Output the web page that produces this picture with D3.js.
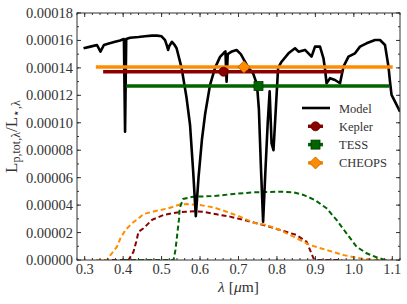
<!DOCTYPE html>
<html>
<head>
<script src="https://cdnjs.cloudflare.com/ajax/libs/d3/7.8.5/d3.min.js"></script>
<style>
  body { margin: 0; background: #fff; }
  svg, svg text, svg tspan { font-family: "Liberation Serif", "Times New Roman", serif; }
</style>
</head>
<body>
<div id="graph"></div>
<script>
// values in units of 1e-5 (L_p / L_star)
var unit = 1e-5;

var modelWl = [0.297,0.315,0.332,0.341,0.350,0.365,0.379,0.392,0.402,0.405,0.408,0.418,0.440,0.457,0.475,0.488,0.500,0.509,0.514,0.517,0.520,0.527,0.533,0.539,0.552,0.565,0.574,0.582,0.589,0.596,0.605,0.613,0.626,0.639,0.652,0.662,0.666,0.669,0.672,0.683,0.695,0.706,0.716,0.726,0.738,0.748,0.753,0.758,0.764,0.770,0.776,0.781,0.786,0.791,0.797,0.803,0.812,0.830,0.847,0.856,0.873,0.890,0.899,0.912,0.921,0.925,0.929,0.938,0.951,0.964,0.973,0.986,1.003,1.016,1.033,1.055,1.068,1.081,1.090,1.094,1.098,1.107,1.120];
var modelFlux = [15.43,15.55,15.67,15.18,15.67,15.8,15.9,16.0,16.1,9.35,16.1,16.2,16.25,16.3,16.35,16.35,16.3,16.03,15.6,15.31,15.6,15.9,15.7,15.43,14.0,11.8,9.84,6.5,3.2,6.0,8.8,10.6,12.76,14.0,14.8,15.1,15.2,13.0,15.0,15.2,15.3,15.0,14.5,14.0,13.6,12.8,11.0,7.0,2.8,6.5,10.0,12.3,8.5,8.0,11.0,14.0,14.45,15.06,15.43,15.18,15.31,14.82,15.55,15.55,14.70,13.9,12.88,13.25,13.12,12.88,14.09,14.82,15.06,15.55,15.79,16.03,16.03,15.67,14.09,13.0,12.03,11.54,10.81];

var keplerWl = [0.35,0.414,0.427,0.434,0.44,0.453,0.475,0.505,0.536,0.562,0.59,0.608,0.643,0.678,0.721,0.765,0.808,0.851,0.877,0.886,0.895,0.903,0.97];
var keplerResp = [0,0,0.61,1.33,2.06,2.31,2.92,3.28,3.45,3.52,3.55,3.52,3.33,3.16,2.87,2.55,2.19,1.82,1.33,0.73,0.12,0,0];

var tessWl = [0.40,0.531,0.536,0.54,0.545,0.547,0.556,0.582,0.635,0.687,0.739,0.808,0.843,0.869,0.899,0.929,0.955,0.981,1.007,1.033,1.059,1.081,1.09];
var tessResp = [0,0,0.73,1.7,2.92,3.77,4.45,4.61,4.66,4.81,4.93,4.98,4.93,4.74,4.37,3.77,2.92,1.94,0.97,0.49,0.2,0,0];

var cheopsWl = [0.33,0.358,0.367,0.384,0.393,0.406,0.423,0.44,0.453,0.484,0.518,0.549,0.565,0.6,0.635,0.669,0.704,0.739,0.773,0.808,0.825,0.843,0.886,0.929,0.973,1.016,1.06,1.1];
var cheopsResp = [0,0,0.36,0.97,1.58,2.19,2.67,3.04,3.35,3.57,3.77,4.06,4.08,4.0,3.84,3.52,3.16,2.72,2.55,2.19,1.94,1.70,1.09,0.73,0.36,0.12,0,0];

// band-averaged points with wavelength ranges
var bandNames = ["Kepler", "TESS", "CHEOPS"];
var bandCenter = [0.661, 0.752, 0.714];
var bandLo = [0.348, 0.408, 0.329];
var bandHi = [0.971, 1.092, 1.101];
var bandValue = [13.72, 12.68, 14.07];
var bandColor = ["#8b0000", "#006400", "#ff8c00"];
var bandShape = ["circle", "square", "diamond"];

var xTicks = [0.3, 0.4, 0.5, 0.6, 0.7, 0.8, 0.9, 1.0, 1.1];
var yTicks = [0, 2, 4, 6, 8, 10, 12, 14, 16, 18];

var W = 407, H = 304;
var margin = { top: 13, right: 7, bottom: 44, left: 77 },
    width = W - margin.left - margin.right,
    height = H - margin.top - margin.bottom;

var serif = "Liberation Serif";

var svg = d3.select("#graph").append("svg")
    .attr("width", W).attr("height", H)
    .attr("font-family", serif)
  .append("g")
    .attr("transform", "translate(" + margin.left + "," + margin.top + ")");

var x = d3.scaleLinear().domain([0.28, 1.12]).range([0, width]);
var y = d3.scaleLinear().domain([0, 18]).range([height, 0]);

svg.append("clipPath").attr("id", "clip")
  .append("rect").attr("width", width).attr("height", height);

var plot = svg.append("g").attr("clip-path", "url(#clip)");

var line = d3.line().x(function (d) { return x(d[0]); }).y(function (d) { return y(d[1]); });

function pairs(a, b) { return a.map(function (v, i) { return [v, b[i]]; }); }

// filter response curves (dashed)
[[keplerWl, keplerResp, bandColor[0]], [cheopsWl, cheopsResp, bandColor[2]], [tessWl, tessResp, bandColor[1]]]
  .forEach(function (c) {
    plot.append("path")
      .attr("d", line(pairs(c[0], c[1])))
      .attr("fill", "none")
      .attr("stroke", c[2])
      .attr("stroke-width", 2)
      .attr("stroke-dasharray", "5,3");
  });

// model spectrum
plot.append("path")
  .attr("d", line(pairs(modelWl, modelFlux)))
  .attr("fill", "none")
  .attr("stroke", "#000")
  .attr("stroke-width", 2.6)
  .attr("stroke-linejoin", "round");

function marker(g, shape, cx, cy, color) {
  if (shape === "circle") {
    g.append("circle").attr("cx", cx).attr("cy", cy).attr("r", 4.5)
      .attr("fill", color).attr("stroke", "#5a0000").attr("stroke-width", 0.8);
  } else if (shape === "square") {
    g.append("rect").attr("x", cx - 4.5).attr("y", cy - 4.5).attr("width", 9).attr("height", 9)
      .attr("fill", color).attr("stroke", "#003a00").attr("stroke-width", 0.8);
  } else {
    g.append("path").attr("d", "M" + cx + "," + (cy - 6) + "L" + (cx + 6) + "," + cy + "L" + cx + "," + (cy + 6) + "L" + (cx - 6) + "," + cy + "Z")
      .attr("fill", color).attr("stroke", "#b35f00").attr("stroke-width", 0.8);
  }
}

// horizontal error bars
bandNames.forEach(function (n, i) {
  plot.append("line")
    .attr("x1", x(bandLo[i])).attr("x2", x(bandHi[i]))
    .attr("y1", y(bandValue[i])).attr("y2", y(bandValue[i]))
    .attr("stroke", bandColor[i]).attr("stroke-width", 3.5);
});
bandNames.forEach(function (n, i) {
  marker(plot, bandShape[i], x(bandCenter[i]), y(bandValue[i]), bandColor[i]);
});

// axes with inward ticks on all four sides
var frame = "#333";
svg.append("rect").attr("width", width).attr("height", height)
  .attr("fill", "none").attr("stroke", frame).attr("stroke-width", 1);

var xMinor = d3.range(0.28, 1.121, 0.02);
var yMinor = d3.range(0, 18.01, 1);
function tickMarks(vals, scale, len, horizontal) {
  vals.forEach(function (v) {
    var p = scale(v);
    if (horizontal) {
      svg.append("line").attr("x1", p).attr("x2", p).attr("y1", height).attr("y2", height - len).attr("stroke", frame);
      svg.append("line").attr("x1", p).attr("x2", p).attr("y1", 0).attr("y2", len).attr("stroke", frame);
    } else {
      svg.append("line").attr("y1", p).attr("y2", p).attr("x1", 0).attr("x2", len).attr("stroke", frame);
      svg.append("line").attr("y1", p).attr("y2", p).attr("x1", width).attr("x2", width - len).attr("stroke", frame);
    }
  });
}
tickMarks(xMinor, x, 2, true);
tickMarks(xTicks, x, 4, true);
tickMarks(yMinor, y, 2, false);
tickMarks(yTicks, y, 4, false);

svg.selectAll(".xl").data(xTicks).enter().append("text")
  .attr("x", function (d) { return x(d); })
  .attr("y", height + 14)
  .attr("text-anchor", "middle")
  .style("font-family", serif).style("font-size", "14.5px").attr("fill", "#333")
  .text(function (d) { return d.toFixed(1); });

svg.selectAll(".yl").data(yTicks).enter().append("text")
  .attr("x", -4)
  .attr("y", function (d) { return y(d) + 5; })
  .attr("text-anchor", "end")
  .style("font-family", serif).style("font-size", "14.5px").attr("fill", "#333")
  .text(function (d) { return (d * unit).toFixed(5); });

// axis labels
var xl = svg.append("text")
  .attr("x", width / 2).attr("y", height + 32)
  .attr("text-anchor", "middle")
  .style("font-family", serif).style("font-size", "15.5px").attr("fill", "#333");
xl.append("tspan").style("font-style", "italic").text("λ");
xl.append("tspan").text(" [");
xl.append("tspan").style("font-style", "italic").text("μ");
xl.append("tspan").text("m]");

var yl = svg.append("text")
  .attr("transform", "translate(" + (-60) + "," + (height / 2) + ") rotate(-90)")
  .attr("text-anchor", "middle")
  .style("font-family", serif).style("font-size", "17px").attr("fill", "#333");
yl.append("tspan").text("L");
yl.append("tspan").style("font-size", "12px").attr("dy", 3).text("p,tot,λ");
yl.append("tspan").attr("dy", -3).text("/L");
yl.append("tspan").style("font-size", "12px").attr("dy", 3).text("⋆,λ");

// legend
var leg = svg.append("g").attr("transform", "translate(" + (302 - margin.left) + "," + (108 - margin.top) + ")");
leg.append("line").attr("x1", 0).attr("x2", 28).attr("y1", 0).attr("y2", 0)
  .attr("stroke", "#000").attr("stroke-width", 2.6);
leg.append("text").attr("x", 37).attr("y", 4.5)
  .style("font-family", serif).style("font-size", "12.5px").attr("fill", "#333").text("Model");
bandNames.forEach(function (n, i) {
  var ly = 18.3 * (i + 1);
  leg.append("line").attr("x1", 6).attr("x2", 21).attr("y1", ly).attr("y2", ly)
    .attr("stroke", bandColor[i]).attr("stroke-width", 3.5);
  marker(leg, bandShape[i], 13.5, ly, bandColor[i]);
  leg.append("text").attr("x", 37).attr("y", ly + 4.5)
    .style("font-family", serif).style("font-size", "12.5px").attr("fill", "#333").text(n);
});
</script>
</body>
</html>
